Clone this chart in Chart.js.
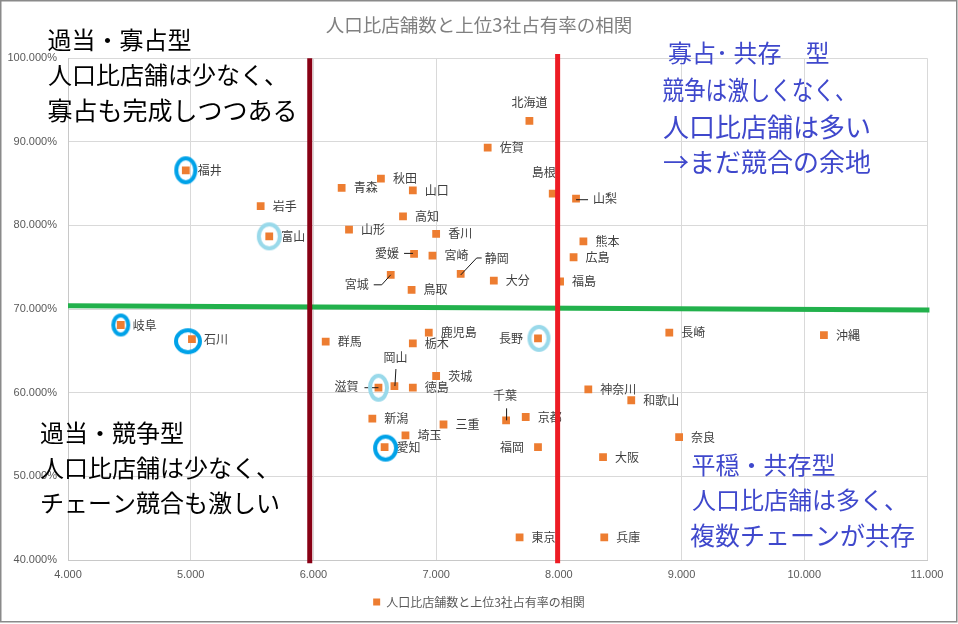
<!DOCTYPE html>
<html lang="ja">
<head>
<meta charset="utf-8">
<script src="https://cdn.jsdelivr.net/npm/chart.js@4.4.1/dist/chart.umd.min.js"></script>
<style>
html,body{margin:0;padding:0;background:#fff;}
#wrap{width:958px;height:624px;position:relative;}
canvas{display:block;}
</style>
</head>
<body>
<div id="wrap"><canvas id="c" width="958" height="624"></canvas></div>
<script>
// ---- data ----
const chartTitle = '人口比店舗数と上位3社占有率の相関';
const seriesName = '人口比店舗数と上位3社占有率の相関';
const prefectures = ['北海道','青森','岩手','宮城','秋田','山形','福島','茨城','栃木','群馬','埼玉','千葉','東京','神奈川','新潟','富山','石川','福井','山梨','長野','岐阜','静岡','愛知','三重','滋賀','京都','大阪','兵庫','奈良','和歌山','鳥取','島根','岡山','広島','山口','徳島','香川','愛媛','高知','福岡','佐賀','長崎','熊本','大分','宮崎','鹿児島','沖縄'];
const storesPerPop = [7.76,6.23,5.57,6.63,6.55,6.29,8.01,7.00,6.81,6.10,6.75,7.57,7.68,8.24,6.48,5.64,5.01,4.96,8.14,7.83,4.43,7.20,6.58,7.06,6.53,7.73,8.36,8.37,8.98,8.59,6.80,7.95,6.66,8.12,6.81,6.81,7.00,6.82,6.73,7.83,7.42,8.90,8.20,7.47,6.97,6.94,10.16];
const top3Share = [92.5,84.5,82.3,74.1,85.6,79.5,73.3,62.0,65.9,66.1,54.9,56.7,42.7,60.4,56.9,78.7,66.4,86.6,83.2,66.5,68.1,74.2,53.5,56.2,60.6,57.1,52.3,42.7,54.7,59.1,72.3,83.8,60.8,76.2,84.2,60.6,79.0,76.6,81.1,53.5,89.3,67.2,78.1,73.4,76.4,67.2,66.9];
const xTickValues = [4,5,6,7,8,9,10,11];
const yTickValues = [40,50,60,70,80,90,100];
const strongRings = ['福井','岐阜','石川','愛知'];
const lightRings = ['富山','滋賀','長野'];
const dividerX1 = [5.97, 5.97];   const dividerY1 = [100, 39.6];
const dividerX2 = [7.99, 7.99];   const dividerY2 = [100.5, 39.6];
const dividerX3 = [4.0, 11.02];   const dividerY3 = [70.4, 69.9];
const notesTopLeft = ['過当・寡占型','人口比店舗は少なく、','寡占も完成しつつある'];
const notesTopRight = ['寡占･ 共存　型','競争は激しくなく、','人口比店舗は多い','→まだ競合の余地'];
const notesBottomLeft = ['過当・競争型','人口比店舗は少なく、','チェーン競合も激しい'];
const notesBottomRight = ['平穏・共存型','人口比店舗は多く、','複数チェーンが共存'];

// ---- styling helpers ----
const CJK = '"Noto Sans CJK JP", "Noto Sans", sans-serif';
const labelPlacement = {
  '北海道': {dx:0, dy:-18, align:'center'},
  '島根': {dx:3, dy:-21, align:'right'},
  '山梨': {dx:17, dy:0, align:'left', leader:[[0,1],[12,1]]},
  '愛媛': {dx:-15, dy:0, align:'right', leader:[[-10,-0.5],[-1,-0.5]]},
  '宮城': {dx:-22, dy:10, align:'right', leader:[[-17,10],[-9,10],[0,0]]},
  '静岡': {dx:24, dy:-16, align:'left', leader:[[0,1],[16,-16],[21,-16]]},
  '岡山': {dx:1, dy:-29, align:'center', leader:[[1.5,-17],[0.5,0]]},
  '滋賀': {dx:-20, dy:-1, align:'right', leader:[[-14,0],[0,0]]},
  '千葉': {dx:-1, dy:-25, align:'center', leader:[[0.5,-12],[0.5,0]]},
  '福岡': {dx:-14, dy:0, align:'right'},
  '長野': {dx:-15, dy:0, align:'right'}
};
const ringShape = {
  '福井':[23,28,0,0], '岐阜':[19,23,0,0], '石川':[28,26,-4,2], '愛知':[25,27,1,1],
  '富山':[25,28,0,0], '滋賀':[21,28,0,0], '長野':[23,27,1,0]
};
function makeRing(w, h, color, ox, oy) {
  const c = document.createElement('canvas');
  const W = w + 2*Math.abs(ox) + 4, H = h + 2*Math.abs(oy) + 4;
  c.width = W; c.height = H;
  const g = c.getContext('2d');
  g.strokeStyle = color; g.lineWidth = 4;
  g.beginPath();
  g.ellipse(W/2 + ox, H/2 + oy, (w-4)/2, (h-4)/2, 0, 0, Math.PI*2);
  g.stroke();
  return c;
}
function idx(name){ return prefectures.indexOf(name); }
function ringDataset(names, color) {
  return {
    label: 'ring', order: 2,
    data: names.map(n => ({x: storesPerPop[idx(n)], y: top3Share[idx(n)]})),
    pointStyle: names.map(n => { const s = ringShape[n]; return makeRing(s[0], s[1], color, s[2], s[3]); }),
    pointRadius: 12, backgroundColor: 'rgba(0,0,0,0)', borderColor: color, clip: false
  };
}
function lineDataset(xs, ys, color, w) {
  return {
    label: 'divider', order: 1, showLine: true, clip: false,
    data: xs.map((x,i) => ({x, y: ys[i]})),
    borderColor: color, borderWidth: w, pointRadius: 0, backgroundColor: color
  };
}

const mainData = prefectures.map((n,i) => ({x: storesPerPop[i], y: top3Share[i]}));

const labelPlugin = {
  id: 'prefLabels',
  afterDatasetDraw(chart, args) {
    if (args.index !== 0) return;
    const ctx = chart.ctx;
    ctx.save();
    ctx.font = '12px ' + CJK;
    ctx.fillStyle = '#404040';
    ctx.strokeStyle = '#1a1a1a';
    ctx.lineWidth = 1;
    ctx.textBaseline = 'middle';
    args.meta.data.forEach((el, i) => {
      const name = prefectures[i];
      const p = Object.assign({dx:12, dy:0, align:'left'}, labelPlacement[name] || {});
      if (p.leader) {
        ctx.beginPath();
        p.leader.forEach(([lx,ly],k) => { if (k) ctx.lineTo(el.x+lx, el.y+ly); else ctx.moveTo(el.x+lx, el.y+ly); });
        ctx.stroke();
      }
      ctx.textAlign = p.align;
      ctx.fillText(name, el.x + p.dx, el.y + p.dy);
    });
    ctx.restore();
  }
};

const framePlugin = {
  id: 'frame',
  beforeDraw(chart) {
    const ctx = chart.ctx;
    ctx.save(); ctx.fillStyle = '#fff'; ctx.fillRect(0,0,chart.width,chart.height); ctx.restore();
  },
  afterDraw(chart) {
    const ctx = chart.ctx;
    ctx.save();
    ctx.strokeStyle = '#8a8a8a'; ctx.lineWidth = 1.5;
    ctx.strokeRect(0.75, 0.75, 956, 621);
    ctx.textBaseline = 'middle'; ctx.textAlign = 'left';
    const draw = (lines, specs, color) => {
      ctx.fillStyle = color;
      lines.forEach((t, i) => {
        const s = specs[i];
        ctx.font = s[3] + 'px ' + CJK;
        if (s[4]) ctx.fillText(t, s[0], s[1], s[4]); else ctx.fillText(t, s[0], s[1]);
      });
    };
    // [x, y, (unused), size, maxWidth]
    draw(notesTopLeft, [[47.5,40,0,24],[48,75,0,24],[47.5,110,0,25]], '#000000');
    draw(notesBottomLeft, [[40,433,0,24],[40,468,0,24],[40,503,0,24]], '#000000');
    draw(notesTopRight, [[668,53,0,24],[662.5,90,0,26,194],[663,127,0,26],[663,162,0,26]], '#3F48CC');
    draw(notesBottomRight, [[691.5,465,0,24],[692,500,0,24],[690,535,0,25]], '#3F48CC');
    ctx.restore();
  }
};

new Chart(document.getElementById('c'), {
  type: 'scatter',
  data: {
    datasets: [
      {
        label: seriesName, order: 3, data: mainData,
        pointStyle: 'rect', pointRadius: 5.5, pointBorderWidth: 0,
        backgroundColor: '#ED7D31', borderColor: '#ED7D31'
      },
      ringDataset(strongRings, '#00A2E8'),
      ringDataset(lightRings, '#99D9EA'),
      lineDataset(dividerX1, dividerY1, '#880015', 5),
      lineDataset(dividerX2, dividerY2, '#ED1C24', 5),
      lineDataset(dividerX3, dividerY3, '#22B14C', 5)
    ]
  },
  options: {
    responsive: false, animation: false, devicePixelRatio: 1, events: [],
    layout: { padding: { left: 0, right: 0, top: 0, bottom: 6 } },
    plugins: {
      tooltip: { enabled: false },
      title: {
        display: true, text: chartTitle, color: '#808080',
        font: { family: CJK, size: 18.5, weight: 'normal' },
        padding: { top: 14, bottom: 22 }
      },
      legend: {
        position: 'bottom',
        labels: {
          filter: item => item.datasetIndex === 0,
          usePointStyle: true, pointStyle: 'rect', boxHeight: 7, boxWidth: 7,
          color: '#595959', font: { family: CJK, size: 12 }, padding: 10
        }
      }
    },
    scales: {
      x: {
        type: 'linear', min: 4, max: 11,
        afterBuildTicks: s => { s.ticks = xTickValues.map(v => ({value: v})); },
        afterFit: s => { s.height = 26; },
        ticks: { callback: v => Number(v).toFixed(3), color: '#595959', font: { family: '"Liberation Sans", Arial, sans-serif', size: 11 }, padding: 8 },
        grid: { color: '#d9d9d9', drawTicks: false },
        border: { color: '#c8c8c8' }
      },
      y: {
        type: 'linear', min: 40, max: 100,
        afterBuildTicks: s => { s.ticks = yTickValues.map(v => ({value: v})); },
        afterFit: s => { s.width = 68; },
        ticks: { callback: v => Number(v).toFixed(3) + '%', color: '#595959', font: { family: '"Liberation Sans", Arial, sans-serif', size: 11 }, padding: 11 },
        grid: { color: '#d9d9d9', drawTicks: false },
        border: { color: '#c8c8c8' }
      },
      yRightSpace: {
        type: 'linear', position: 'right', display: true,
        afterFit: s => { s.width = 31; },
        ticks: { display: false },
        grid: { display: false, drawTicks: false },
        border: { display: false }
      }
    }
  },
  plugins: [labelPlugin, framePlugin]
});
</script>
</body>
</html>
